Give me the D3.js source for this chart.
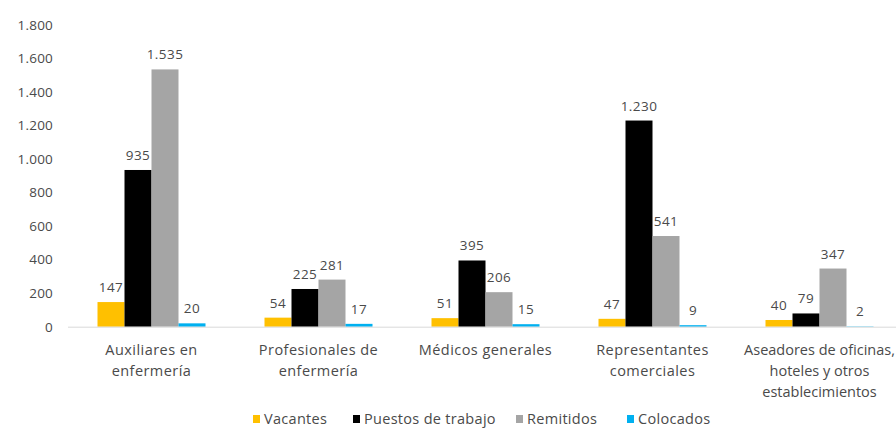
<!DOCTYPE html>
<html>
<head>
<meta charset="utf-8">
<script src="https://d3js.org/d3.v7.min.js"></script>
<style>
* { box-sizing:border-box; }
body { margin:0; background:#fff; }
svg text { font-family:"Open Sans", "DejaVu Sans", sans-serif; fill:#4a4a4a; letter-spacing:0.45px; }
</style>
</head>
<body>
<div id="chart"></div>
<script>
// categories and series
var categories = [
  ["Auxiliares en", "enfermería"],
  ["Profesionales de", "enfermería"],
  ["Médicos generales"],
  ["Representantes", "comerciales"],
  ["Aseadores de oficinas,", "hoteles y otros", "establecimientos"]
];
var seriesNames = ["Vacantes", "Puestos de trabajo", "Remitidos", "Colocados"];
var seriesColors = ["#FFC000", "#000000", "#A5A5A5", "#00B0F0"];
var vacantes = [147, 54, 51, 47, 40];
var puestos = [935, 225, 395, 1230, 79];
var remitidos = [1535, 281, 206, 541, 347];
var colocados = [20, 17, 15, 9, 2];
var yTicks = [0, 200, 400, 600, 800, 1000, 1200, 1400, 1600, 1800];

var series = [vacantes, puestos, remitidos, colocados];

var W = 896, H = 428;
var svg = d3.select("#chart").append("svg")
  .attr("width", W).attr("height", H);

// scales
var x0 = d3.scaleBand()
  .domain(d3.range(categories.length))
  .range([68, 903])
  .padding(0);

var x1 = d3.scaleBand()
  .domain(d3.range(seriesNames.length))
  .range([29.5, 137.5])
  .padding(0);

var y = d3.scaleLinear()
  .domain([0, 1800])
  .range([326.7, 25]);

// y axis labels
var fmt = function(v) { return d3.format(",")(v).replace(/,/g, "."); };
svg.append("g")
  .attr("transform", "translate(56,0)")
  .call(d3.axisLeft(y).tickValues(yTicks).tickSize(0).tickFormat(fmt))
  .call(function(g) { g.select(".domain").remove(); })
  .selectAll("text")
    .style("font-size", "13.5px")
    .style("font-family", "\"Open Sans\", sans-serif")
    .style("letter-spacing", "0.2px")
    .style("fill", "#4a4a4a");

// bars
var groups = svg.selectAll(".grp")
  .data(categories)
  .enter().append("g")
    .attr("class", "grp")
    .attr("transform", function(d, i) { return "translate(" + x0(i) + ",0)"; });

groups.selectAll("rect")
  .data(function(d, i) { return series.map(function(s, j) { return {s: j, v: s[i]}; }); })
  .enter().append("rect")
    .attr("x", function(d) { return x1(d.s); })
    .attr("y", function(d) { return y(d.v); })
    .attr("width", x1.bandwidth())
    .attr("height", function(d) { return y(0) - y(d.v); })
    .attr("fill", function(d) { return seriesColors[d.s]; });

// axis line
svg.append("line")
  .attr("x1", 68).attr("x2", W)
  .attr("y1", y(0) + 0.5).attr("y2", y(0) + 0.5)
  .attr("stroke", "#D9D9D9").attr("stroke-width", 1);

// value labels
groups.selectAll(".val")
  .data(function(d, i) { return series.map(function(s, j) { return {s: j, v: s[i]}; }); })
  .enter().append("text")
    .attr("class", "val")
    .attr("x", function(d) { return x1(d.s) + x1.bandwidth() / 2; })
    .attr("y", function(d) { return y(d.v) - 10; })
    .attr("text-anchor", "middle")
    .style("font-size", "13.5px")
    .text(function(d) { return fmt(d.v); });

// category labels (last one sits at the right edge, so a bit tighter)
groups.append("text")
  .attr("text-anchor", "middle")
  .style("font-size", "14.5px")
  .style("letter-spacing", function(d, i) { return i == 4 ? "0px" : null; })
  .selectAll("tspan")
  .data(function(d) { return d; })
  .enter().append("tspan")
    .attr("x", function(d, i, n) { return x0.bandwidth() / 2; })
    .attr("y", function(d, i) { return 355 + i * 21; })
    .text(function(d) { return d; });

// legend
var legendX = [253, 353, 516, 627];
var legend = svg.selectAll(".leg")
  .data(seriesNames)
  .enter().append("g")
    .attr("class", "leg")
    .attr("transform", function(d, i) { return "translate(" + legendX[i] + ",419)"; });

legend.append("rect")
  .attr("x", 0).attr("y", -4)
  .attr("width", 7).attr("height", 8)
  .attr("fill", function(d, i) { return seriesColors[i]; });

legend.append("text")
  .attr("x", 11).attr("y", 5)
  .style("font-size", "14.5px")
  .style("letter-spacing", "0.3px")
  .text(function(d) { return d; });
</script>
</body>
</html>
